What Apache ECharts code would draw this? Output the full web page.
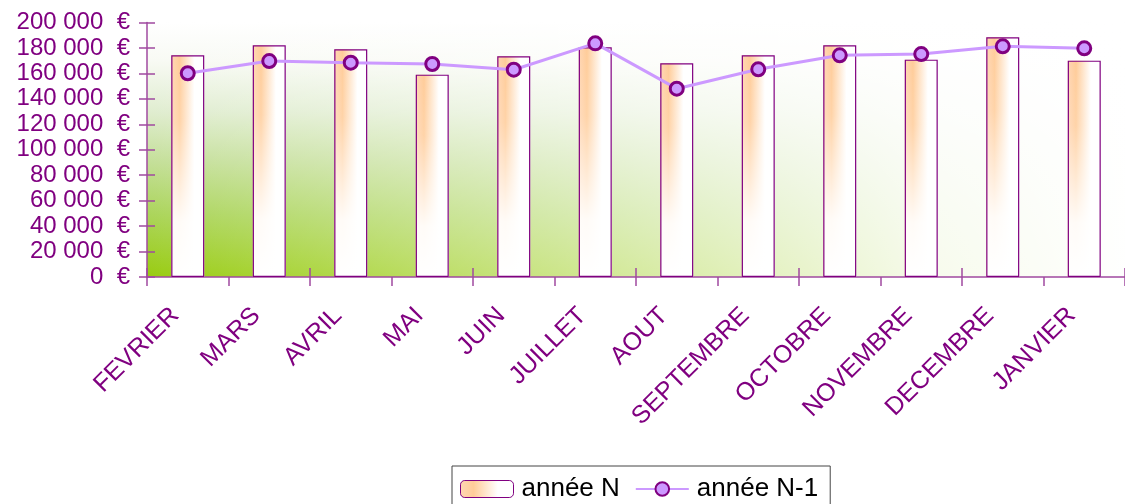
<!DOCTYPE html>
<html><head><meta charset="utf-8">
<script src="https://cdn.jsdelivr.net/npm/echarts@6/dist/echarts.min.js"></script>
<style>html,body{margin:0;padding:0;background:#fff}#c{width:1125px;height:504px}</style>
</head><body><div id="c"></div>
<script>
const categories = ['FEVRIER','MARS','AVRIL','MAI','JUIN','JUILLET','AOUT','SEPTEMBRE','OCTOBRE','NOVEMBRE','DECEMBRE','JANVIER'];
const anneeN = [174200, 182100, 178900, 159000, 173400, 180500, 167900, 174200, 182100, 170800, 188400, 170000];
const anneeN1 = [160100, 169700, 168400, 167400, 162900, 183600, 148000, 163200, 174200, 175200, 181300, 179700];
const yMin = 0, yMax = 200000, yInterval = 20000;

const purple = '#800080';
const font = 'Liberation Sans, Arial, sans-serif';
function fmt(v){ return String(v).replace(/\B(?=(\d{3})+(?!\d))/g, '\u00a0') + '\u00a0\u00a0€'; }

const G = {left:147, top:22.5, right:-8, bottom:227};
const gw = 1125 - G.left - G.right, gh = 504 - G.top - G.bottom;

const chart = echarts.init(document.getElementById('c'), null, {renderer:'canvas'});
chart.setOption({
  animation:false,
  textStyle:{fontFamily:font},
  graphic:[
    {type:'rect', z:-10, shape:{x:G.left, y:G.top, width:gw, height:gh},
     style:{fill:new echarts.graphic.LinearGradient(0,0,0,1,[
       {offset:0,color:'#ffffff'},{offset:0.15,color:'#f8faf4'},{offset:0.35,color:'#e0edd0'},
       {offset:0.55,color:'#c4df98'},{offset:0.75,color:'#acd55c'},{offset:1,color:'#99cc11'}])}},
    {type:'rect', z:-9, shape:{x:G.left, y:G.top, width:gw, height:gh},
     style:{fill:new echarts.graphic.LinearGradient(0,0,1,0,[
       {offset:0,color:'rgba(255,255,255,0)'},{offset:0.5,color:'rgba(255,255,255,0.6)'},
       {offset:0.8,color:'rgba(255,255,255,0.92)'},{offset:1,color:'rgba(255,255,255,1)'}])}}
  ],
  grid:{left:G.left, top:G.top, right:G.right, bottom:G.bottom, containLabel:false},
  legend:{
    data:[{name:'année N', itemStyle:{borderColor:purple, borderWidth:1}}, {name:'année N-1'}],
    left:452, top:466, orient:'horizontal',
    borderColor:'#444', borderWidth:1, backgroundColor:'#fff',
    padding:[10,12,20,8], itemGap:15, itemWidth:53, itemHeight:17,
    textStyle:{color:'#000', fontSize:26, fontFamily:font, padding:[0,0,0,3]}
  },
  xAxis:[
    {type:'category', data:categories, position:'bottom',
     axisLine:{lineStyle:{color:'#a04aa0', width:1.5}},
     axisTick:{show:true, length:9, lineStyle:{color:'#a04aa0', width:1.5}},
     axisLabel:{rotate:45, color:purple, fontSize:25, fontFamily:font, margin:22, interval:0, padding:[0,18,0,0]}},
    {type:'category', data:categories, position:'bottom', offset:0,
     axisLine:{show:false}, axisLabel:{show:false},
     axisTick:{show:true, inside:true, length:9, lineStyle:{color:'#a04aa0', width:1.5}}}
  ],
  yAxis:[
    {type:'value', min:yMin, max:yMax, interval:yInterval,
     axisLine:{show:true, lineStyle:{color:'#a04aa0', width:1.5}},
     axisTick:{show:true, length:8, lineStyle:{color:'#a04aa0', width:1.5}},
     splitLine:{show:false},
     axisLabel:{color:purple, fontSize:24, fontFamily:font, margin:17, formatter:fmt}},
    {type:'value', min:yMin, max:yMax, interval:yInterval, position:'left', offset:0,
     axisLine:{show:false}, axisLabel:{show:false}, splitLine:{show:false},
     axisTick:{show:true, inside:true, length:8, lineStyle:{color:'#a04aa0', width:1.5}}}
  ],
  series:[
    {name:'année N', type:'bar', data:anneeN, barWidth:33, barGap:'-100%', z:2,
     itemStyle:{color:new echarts.graphic.LinearGradient(0,0,1,0,[
       {offset:0,color:'#ffd6b4'},{offset:0.25,color:'#ffcc99'},{offset:0.7,color:'#ffffff'},{offset:1,color:'#ffffff'}])}},
    {name:'overlay', type:'bar', data:anneeN, barWidth:33, barGap:'-100%', z:3, legendHoverLink:false,
     itemStyle:{borderColor:purple, borderWidth:1.2,
       color:new echarts.graphic.LinearGradient(0,0,0,1,[
       {offset:0,color:'rgba(255,255,255,0)'},{offset:0.3,color:'rgba(255,255,255,0.15)'},
       {offset:0.75,color:'rgba(255,255,255,0.92)'},{offset:1,color:'rgba(255,255,255,1)'}])}},
    {name:'année N-1', type:'line', data:anneeN1, z:5,
     symbol:'circle', symbolSize:13,
     lineStyle:{color:'#cc99ff', width:3},
     itemStyle:{color:'#cc99ff', borderColor:purple, borderWidth:3}}
  ]
});
</script></body></html>
